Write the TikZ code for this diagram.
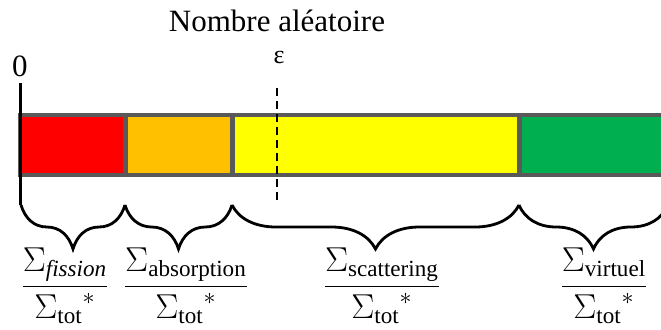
\documentclass[tikz,border=0pt]{standalone}
\usepackage{amsmath}
\usepackage{fontspec}
\setmainfont{Liberation Serif}
\usepackage{xcolor}
\definecolor{bargris}{RGB}{89, 89, 89}
\definecolor{segrouge}{RGB}{255, 0, 0}
\definecolor{segorange}{RGB}{255, 192, 0}
\definecolor{segjaune}{RGB}{255, 255, 0}
\definecolor{segvert}{RGB}{0, 176, 80}
\usepackage{tikz}
\usetikzlibrary{positioning, decorations.pathreplacing}

\begin{document}
\begin{tikzpicture}[
  x=0.5pt, y=-0.5pt,
  seg/.style={rectangle, anchor=north west, inner sep=0pt, outer sep=0pt, minimum height=28pt},
  accolade/.style={decorate, decoration={brace, mirror, amplitude=22pt, aspect=0.5}, line width=1.4pt},
  frac/.style={font=\fontsize{16.5}{19}\selectfont, inner sep=0pt, anchor=base},
  lbl/.style={font=\fontsize{15.5}{18}\selectfont, inner sep=0pt}
]
  \useasboundingbox (0,0) rectangle (661,329);
  \clip (0,0) rectangle (661,329);

  % barre des sections
  \fill[bargris] (18,113) rectangle (680,177);
  \node[seg, fill=segrouge, minimum width=51pt] (fis) at (21,117) {};
  \node[seg, fill=segorange, minimum width=51pt] (abs) at (128,117) {};
  \node[seg, fill=segjaune, minimum width=141pt] (sca) at (235,117) {};
  \node[seg, fill=segvert, minimum width=80pt] (vir) at (522,117) {};

  % origine et nombre aleatoire
  \node[lbl] (titre) at (277,21) {Nombre aléatoire};
  \node[lbl] (zero) at (20,66) {0};
  \node[lbl, font=\fontsize{13}{15}\selectfont] (eps) at (279,57) {ε};
  \coordinate (o1) at (21,83);
  \coordinate (o2) at (21,205);
  \coordinate (e1) at (277,88);
  \coordinate (e2) at (277,202);
  \draw[line width=1.5pt] (o1) -- (o2);
  \draw[line width=0.9pt, dash pattern=on 4pt off 2.5pt] (e1) -- (e2);

  % accolades
  \coordinate (b0) at (21,205);
  \coordinate (b1) at (125,205);
  \coordinate (b2) at (232,205);
  \coordinate (b3) at (519,205);
  \coordinate (b4) at (668,205);
  \draw[accolade] (b0) -- (b1);
  \draw[accolade] (b1) -- (b2);
  \draw[accolade] (b2) -- (b3);
  \draw[accolade] (b3) -- (b4);

  % probabilites
  \node[frac] (pfis) at (65,295) {$\dfrac{\Sigma_{\mathit{fission}}}{{\Sigma_{\mathrm{tot}}}^{*}}$};
  \node[frac] (pabs) at (186,295) {$\dfrac{\Sigma_{\mathrm{absorption}}}{{\Sigma_{\mathrm{tot}}}^{*}}$};
  \node[frac] (psca) at (382,295) {$\dfrac{\Sigma_{\mathrm{scattering}}}{{\Sigma_{\mathrm{tot}}}^{*}}$};
  \node[frac] (pvir) at (604,295) {$\dfrac{\Sigma_{\mathrm{virtuel}}}{{\Sigma_{\mathrm{tot}}}^{*}}$};
\end{tikzpicture}
\end{document}
